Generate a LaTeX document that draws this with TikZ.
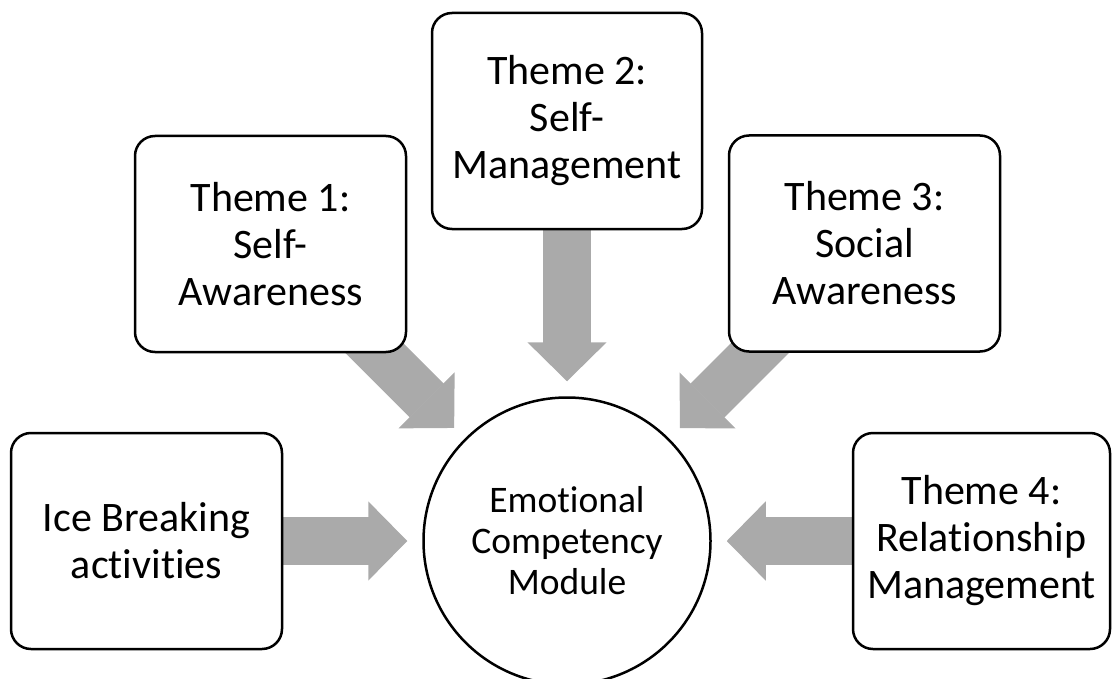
\documentclass[tikz,border=0pt]{standalone}
\usepackage{fontspec}
\setmainfont{Carlito}[Ligatures=NoCommon]
\usetikzlibrary{arrows.meta,backgrounds}
\definecolor{arrowgray}{RGB}{170,170,170}

\begin{document}
\begin{tikzpicture}[x=1pt,y=-1pt,
    theme/.style={draw, line width=2.5pt, rounded corners=20pt, fill=white, align=center,
      font=\fontsize{42}{47}\selectfont, minimum height=216pt},
    bigarrow/.style={draw=arrowgray, line width=48pt, line cap=butt,
      -{Triangle[length=39pt,width=79pt,line width=1.5pt]}, shorten >=15pt}]

      \useasboundingbox (0,0) rectangle (1115,679);

      \node[circle, draw, line width=2.5pt, minimum size=287pt, align=center,
        font=\fontsize{37.5}{41}\selectfont] (mod) at (567,541) {Emotional\\Competency\\Module};

      \begin{scope}[every node/.style={theme}]
        \node[minimum width=271pt] (ice) at (146.5,541)   {Ice Breaking\\activities};
        \node[minimum width=271pt] (sa)  at (270.5,244)   {Theme 1:\\Self-\\Awareness};
        \node[minimum width=270pt] (sm)  at (567,121)     {Theme 2:\\Self-\\Management};
        \node[minimum width=271pt] (soc) at (864.5,243.5) {Theme 3:\\Social\\Awareness};
        \node[minimum width=257pt] (rel) at (981.5,541)   {Theme 4:\\Relationship\\Management};
      \end{scope}

      \begin{scope}[on background layer, every edge/.style={bigarrow}]
        \path (ice.center) edge (mod);
        \path (sa.center)  edge (mod);
        \path (sm.center)  edge (mod);
        \path (soc.center) edge (mod);
        \path (rel.center) edge (mod);
      \end{scope}

    \end{tikzpicture}
\end{document}
